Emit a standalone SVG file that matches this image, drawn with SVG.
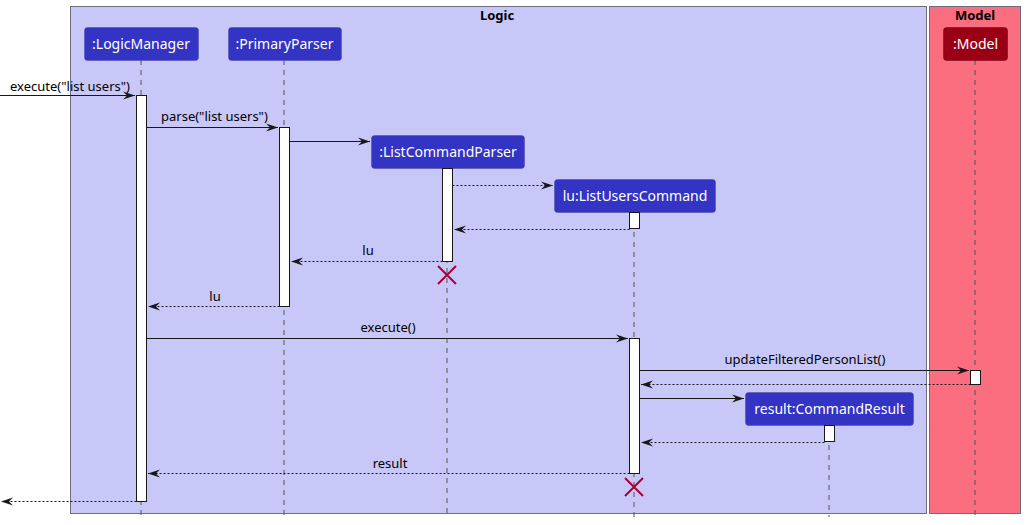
<svg xmlns="http://www.w3.org/2000/svg" width="1026" height="525" viewBox="0 0 1026 525">
<defs>
<marker id="ah" markerUnits="userSpaceOnUse" markerWidth="14" markerHeight="10" refX="13" refY="5" orient="auto">
<polygon points="1,1 13,5 1,9 5,5" fill="#181818"/>
</marker>
</defs>
<style>
.box{stroke:#181818;stroke-width:0.5}
.lbl{font-family:"Noto Sans","DejaVu Sans",sans-serif;font-size:13px;fill:#000}
.ptxt{font-family:"Noto Sans","DejaVu Sans",sans-serif;font-size:14px;fill:#fff;text-anchor:middle}
.ttl{font-family:"Noto Sans","DejaVu Sans",sans-serif;font-size:13px;font-weight:bold;fill:#000;text-anchor:middle}
.life{stroke:#555;stroke-width:1;stroke-dasharray:5,5}
.act{fill:#fff;stroke:#181818;stroke-width:1}
.msg{stroke:#181818;stroke-width:1;fill:none;marker-end:url(#ah)}
.ret{stroke:#181818;stroke-width:1;fill:none;stroke-dasharray:2,2;marker-end:url(#ah)}
.x{stroke:#A80036;stroke-width:2}
</style>
<g id="box-logic">
<rect x="70.5" y="6.5" width="856" height="507" fill="#C8C8F8" stroke="#6E6E80" stroke-width="1"/>
<text class="ttl" x="497" y="20">Logic</text>
</g>
<g id="box-model">
<rect x="929.5" y="6.5" width="91" height="507" fill="#FB6E80" stroke="#6E6E80" stroke-width="1"/>
<text class="ttl" x="975" y="20">Model</text>
</g>
<g id="lifelines">
<line class="life" x1="141" y1="60" x2="141" y2="517"/>
<line class="life" x1="284" y1="60" x2="284" y2="517"/>
<line class="life" x1="447" y1="168" x2="447" y2="517"/>
<line class="life" x1="634" y1="212" x2="634" y2="517"/>
<line class="life" x1="829" y1="425" x2="829" y2="517"/>
<line class="life" x1="975" y1="60" x2="975" y2="517"/>
</g>
<g id="logicmanager">
<rect x="84.5" y="27.5" width="114" height="33" rx="3" fill="#3333C4" stroke="#4C4CA0" stroke-width="0.5"/>
<text class="ptxt" x="141" y="49">:LogicManager</text>
<rect class="act" x="136.5" y="95.5" width="10" height="406"/>
</g>
<g id="primaryparser">
<rect x="228.5" y="27.5" width="113" height="33" rx="3" fill="#3333C4" stroke="#4C4CA0" stroke-width="0.5"/>
<text class="ptxt" x="284.5" y="49">:PrimaryParser</text>
<rect class="act" x="279.5" y="127.5" width="10" height="179"/>
</g>
<g id="listcommandparser">
<rect x="371.5" y="135.5" width="153" height="33" rx="3" fill="#3333C4" stroke="#4C4CA0" stroke-width="0.5"/>
<text class="ptxt" x="448" y="157">:ListCommandParser</text>
<rect class="act" x="442.5" y="168.5" width="10" height="93"/>
<path class="x" d="M438,266 L456,284 M456,266 L438,284"/>
</g>
<g id="listuserscommand">
<rect x="554.5" y="179.5" width="161" height="33" rx="3" fill="#3333C4" stroke="#4C4CA0" stroke-width="0.5"/>
<text class="ptxt" x="635" y="201">lu:ListUsersCommand</text>
<rect class="act" x="629.5" y="212.5" width="10" height="16"/>
<rect class="act" x="629.5" y="338.5" width="10" height="135"/>
<path class="x" d="M625,478 L643,496 M643,478 L625,496"/>
</g>
<g id="commandresult">
<rect x="745.5" y="392.5" width="168" height="33" rx="3" fill="#3333C4" stroke="#4C4CA0" stroke-width="0.5"/>
<text class="ptxt" x="829.5" y="414">result:CommandResult</text>
<rect class="act" x="824.5" y="425.5" width="10" height="16"/>
</g>
<g id="model">
<rect x="943.5" y="27.5" width="64" height="33" rx="3" fill="#9A0015" stroke="#6A0010" stroke-width="0.5"/>
<text class="ptxt" x="975.5" y="49">:Model</text>
<rect class="act" x="970.5" y="370.5" width="10" height="14"/>
</g>
<g id="connectors">
<line class="msg" x1="0" y1="95.5" x2="135" y2="95.5"/>
<text class="lbl" x="10" y="91">execute("list users")</text>
<line class="msg" x1="146.5" y1="127.5" x2="278" y2="127.5"/>
<text class="lbl" x="161" y="121">parse("list users")</text>
<line class="msg" x1="289.5" y1="141.5" x2="370" y2="141.5"/>
<line class="ret" x1="452.5" y1="185.5" x2="553" y2="185.5"/>
<line class="ret" x1="629.5" y1="229.5" x2="454" y2="229.5"/>
<line class="ret" x1="442.5" y1="261.5" x2="291" y2="261.5"/>
<text class="lbl" x="368" y="255" text-anchor="middle">lu</text>
<line class="ret" x1="279.5" y1="306.5" x2="148" y2="306.5"/>
<text class="lbl" x="215" y="301" text-anchor="middle">lu</text>
<line class="msg" x1="146.5" y1="338.5" x2="628" y2="338.5"/>
<text class="lbl" x="388" y="332" text-anchor="middle">execute()</text>
<line class="msg" x1="639.5" y1="370.5" x2="969" y2="370.5"/>
<text class="lbl" x="805" y="364" text-anchor="middle">updateFilteredPersonList()</text>
<line class="ret" x1="970.5" y1="384.5" x2="641" y2="384.5"/>
<line class="msg" x1="639.5" y1="398.5" x2="744" y2="398.5"/>
<line class="ret" x1="824.5" y1="442.5" x2="641" y2="442.5"/>
<line class="ret" x1="629.5" y1="473.5" x2="148" y2="473.5"/>
<text class="lbl" x="390" y="468" text-anchor="middle">result</text>
<line class="ret" x1="136.5" y1="501.5" x2="1" y2="501.5"/>
</g>
</svg>
